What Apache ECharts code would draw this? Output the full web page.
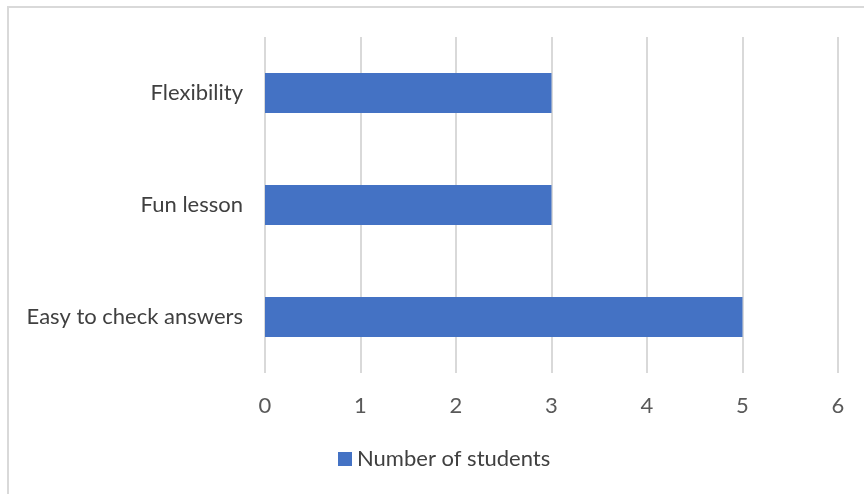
<!DOCTYPE html>
<html>
<head>
<meta charset="utf-8">
<script src="https://cdn.jsdelivr.net/npm/echarts@6/dist/echarts.min.js"></script>
<style>
  html, body { margin: 0; padding: 0; background: #fff; }
  #chart { width: 864px; height: 494px; }
</style>
</head>
<body>
<div id="chart"></div>
<script>
// categories bottom -> top
const categories = ['Easy to check answers', 'Fun lesson', 'Flexibility'];
const students = [5, 3, 3];
const seriesName = 'Number of students';
const xTicks = { min: 0, max: 6, interval: 1 };

const chart = echarts.init(document.getElementById('chart'));

chart.setOption({
  animation: false,
  textStyle: { fontFamily: 'Lato' },
  graphic: [{
    type: 'rect',
    shape: { x: 8, y: 7, width: 900, height: 600 },
    style: { fill: 'none', stroke: '#d9d9d9', lineWidth: 2 },
    silent: true
  }],
  grid: { left: 265, right: 26, top: 37, bottom: 121 },
  legend: {
    top: 448,
    left: 338,
    padding: 0,
    itemWidth: 14,
    itemHeight: 14,
    itemGap: 6,
    icon: 'rect',
    textStyle: { fontSize: 22, lineHeight: 22, color: '#404040', padding: [0, 0, 0, 0] },
    data: [seriesName]
  },
  xAxis: {
    type: 'value',
    min: xTicks.min,
    max: xTicks.max,
    interval: xTicks.interval,
    axisLine: { show: false },
    axisTick: { show: false },
    axisLabel: { color: '#595959', fontSize: 22, margin: 22 },
    splitLine: { show: true, lineStyle: { color: '#d9d9d9', width: 2 } }
  },
  yAxis: {
    type: 'category',
    data: categories,
    axisLine: { show: false },
    axisTick: { show: false },
    axisLabel: { color: '#404040', fontSize: 22, margin: 22 }
  },
  series: [{
    name: seriesName,
    type: 'bar',
    data: students,
    barWidth: 40,
    itemStyle: { color: '#4472C4' }
  }]
});
</script>
</body>
</html>
